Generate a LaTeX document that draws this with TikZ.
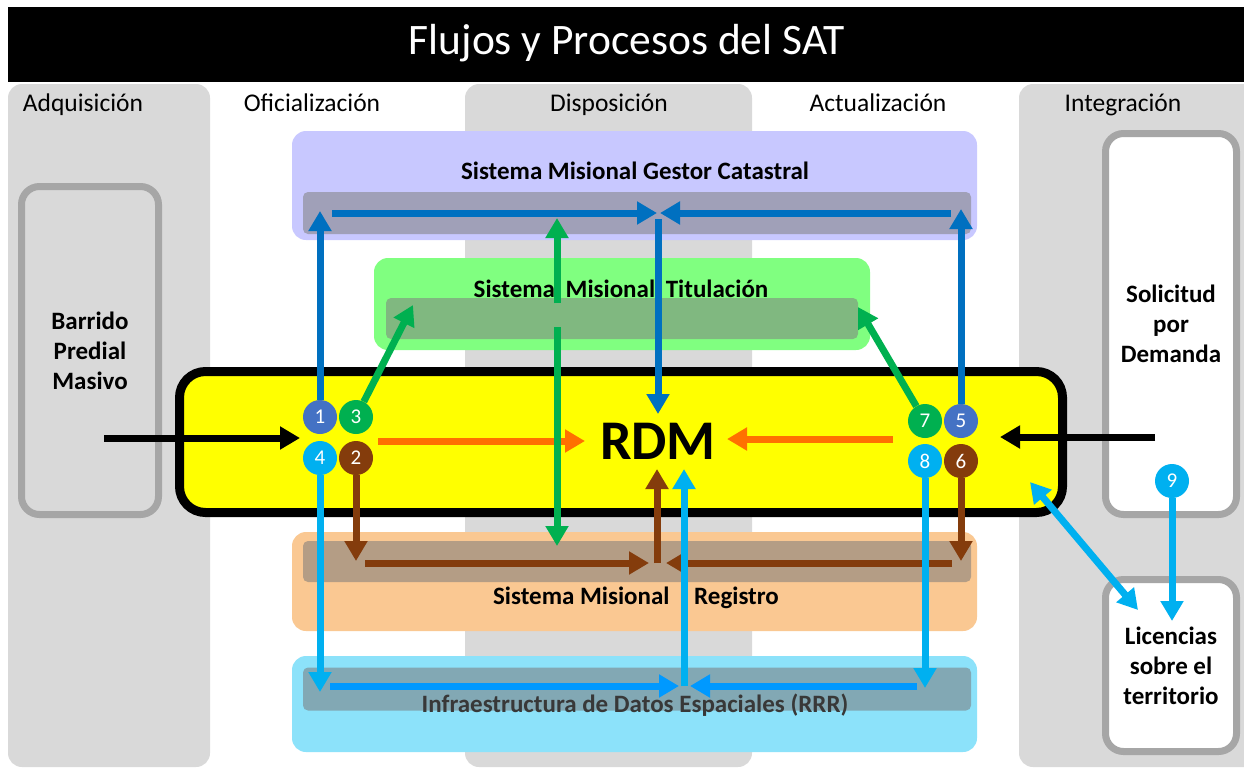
\documentclass[tikz,border=0pt]{standalone}
\usepackage{fontspec}
\setmainfont{Carlito}
\usetikzlibrary{arrows.meta}
\definecolor{colgray}{RGB}{217,217,217}
\definecolor{boxgray}{RGB}{166,166,166}
\definecolor{lav}{RGB}{200,200,255}
\definecolor{lavbar}{RGB}{160,160,184}
\definecolor{lgreen}{RGB}{128,255,128}
\definecolor{lgreenbar}{RGB}{128,184,128}
\definecolor{lorange}{RGB}{250,200,146}
\definecolor{lorangebar}{RGB}{180,157,133}
\definecolor{lcyan}{RGB}{140,226,250}
\definecolor{lcyanbar}{RGB}{130,168,180}
\definecolor{cblue}{RGB}{0,112,192}
\definecolor{cblueC}{RGB}{68,114,196}
\definecolor{cgreen}{RGB}{0,176,80}
\definecolor{ccyan}{RGB}{0,176,240}
\definecolor{ccyanH}{RGB}{0,153,255}
\definecolor{cbrown}{RGB}{132,60,12}
\definecolor{corange}{RGB}{255,112,0}
\definecolor{ryellow}{RGB}{255,255,0}
\begin{document}
\begin{tikzpicture}[x=1pt,y=-1pt,
  arr/.style={line width=7pt,-{Triangle[length=20pt,width=22pt]}},
  darr/.style={line width=7pt,{Triangle[length=20pt,width=22pt]}-{Triangle[length=20pt,width=22pt]}},
  colhead/.style={anchor=base,font=\fontsize{25.5}{28}\selectfont},
  sidebox/.style={draw=boxgray,line width=7pt,rounded corners=18pt,inner sep=0pt,align=center,font=\fontsize{25}{30}\selectfont\bfseries},
  grp/.style={rounded corners=14pt,inner sep=0pt},
  bar/.style={rounded corners=5pt,inner sep=0pt},
  grptitle/.style={font=\fontsize{25}{28}\selectfont\bfseries},
  num/.style={circle,minimum size=34pt,inner sep=0pt,text=white,font=\fontsize{21}{21}\selectfont}
]
\useasboundingbox (0,0) rectangle (1244,769);
\fill[white] (0,0) rectangle (1244,769);
% title bar
\fill[black] (8,7) rectangle (1244,82);
\node[font=\fontsize{43.5}{46}\selectfont,text=white] (title) at (627,43) {Flujos y Procesos del SAT};
% columns
\fill[colgray,rounded corners=14pt] (8,84) rectangle (210,767);
\fill[colgray,rounded corners=14pt] (465,84) rectangle (752,767);
\fill[colgray,rounded corners=14pt] (1019,84) rectangle (1258,767);
\node[colhead] (h1) at (83,111) {Adquisición};
\node[colhead] (h2) at (312,111) {Oficialización};
\node[colhead] (h3) at (609,111) {Disposición};
\node[colhead] (h4) at (878,111) {Actualización};
\node[colhead] (h5) at (1123,111) {Integración};
% side boxes
\node[sidebox,fill=colgray,minimum width=137pt,minimum height=328pt] (barrido) at (90,350.5) {Barrido\\Predial\\Masivo};
\node[sidebox,fill=white,minimum width=131pt,minimum height=381pt] (solicitud) at (1171,324) {Solicitud\\por\\Demanda};
\node[sidebox,fill=white,minimum width=131pt,minimum height=172pt] (licencias) at (1171,665.5) {Licencias\\sobre el\\territorio};
% groups
\node[grp,fill=lav,minimum width=685pt,minimum height=109pt] (gc) at (634.5,185.5) {};
\node[bar,fill=lavbar,minimum width=668pt,minimum height=42pt] (gcbar) at (637,213) {};
\node[grptitle] (gct) at (635,171) {Sistema Misional Gestor Catastral};
\node[grp,fill=lgreen,minimum width=496pt,minimum height=92pt] (gt) at (622,304) {};
\node[bar,fill=lgreenbar,minimum width=472pt,minimum height=41pt] (gtbar) at (622,318.5) {};
\node[grptitle] (gtt) at (621,289) {Sistema\hspace{5pt} Misional\hspace{5pt} Titulación};
% RDM
\node[draw=black,fill=ryellow,line width=9pt,rounded corners=26pt,minimum width=883pt,minimum height=141pt,inner sep=0pt] (rdmbox) at (621,442) {};
\node[font=\fontsize{56}{58}\selectfont\bfseries] (rdm) at (658,441) {RDM};
\node[grp,fill=lorange,minimum width=685pt,minimum height=99pt] (gr) at (634.5,581.5) {};
\node[bar,fill=lorangebar,minimum width=668pt,minimum height=41pt] (grbar) at (637,561.5) {};
\node[grptitle] (grt) at (636,598) {Sistema Misional\hspace{19pt} Registro};
\node[grp,fill=lcyan,minimum width=685pt,minimum height=96pt] (gi) at (634.5,704) {};
\node[bar,fill=lcyanbar,minimum width=668pt,minimum height=43pt] (gibar) at (637,689) {};
\node[grptitle,text=black!78] (git) at (635,705) {Infraestructura de Datos Espaciales (RRR)};
% circles
\node[num,fill=cblueC] (c1) at (320,417) {1};
\node[num,fill=cgreen] (c3) at (356,417) {3};
\node[num,fill=ccyan] (c4) at (320,458) {4};
\node[num,fill=cbrown] (c2) at (356,458) {2};
\node[num,fill=cgreen] (c7) at (925,421) {7};
\node[num,fill=cblueC] (c5) at (961,421) {5};
\node[num,fill=ccyan] (c8) at (925,461) {8};
\node[num,fill=cbrown] (c6) at (961,461) {6};
\node[num,fill=ccyan] (c9) at (1172,481) {9};
% coordinates
\coordinate (bA) at (104,438);
\coordinate (bAt) at (300,438);
\coordinate (bS) at (1155,437);
\coordinate (bSt) at (1000,437);
\coordinate (oL) at (378,441);
\coordinate (oLt) at (585,441);
\coordinate (oR) at (893,439);
\coordinate (oRt) at (727,439);
\coordinate (b1t) at (320,211);
\coordinate (b5t) at (961,209);
\coordinate (bhL) at (332,213);
\coordinate (bhLt) at (657,213);
\coordinate (bhR) at (951,213);
\coordinate (bhRt) at (660,213);
\coordinate (bdn) at (658,219);
\coordinate (bdnt) at (658,414);
\coordinate (g3t) at (413,305);
\coordinate (g7t) at (858,307);
\coordinate (gup) at (557,303);
\coordinate (gupt) at (557,218);
\coordinate (gdn) at (557,327);
\coordinate (gdnt) at (557,546);
\coordinate (r2t) at (356,561);
\coordinate (r6t) at (961,561);
\coordinate (rhL) at (365,563);
\coordinate (rhLt) at (649,563);
\coordinate (rhR) at (952,563);
\coordinate (rhRt) at (666,563);
\coordinate (rup) at (657,563);
\coordinate (rupt) at (657,469);
\coordinate (i4t) at (320,692);
\coordinate (i8t) at (925,688);
\coordinate (ihL) at (330,686);
\coordinate (ihLt) at (679,686);
\coordinate (ihR) at (917,686);
\coordinate (ihRt) at (690,686);
\coordinate (iup) at (684,686);
\coordinate (iupt) at (684,469);
\coordinate (c9t) at (1172,621);
\coordinate (dA) at (1030,482);
\coordinate (dB) at (1138,610);
% arrows
\draw[arr,black] (bA) -- (bAt);
\draw[arr,black] (bS) -- (bSt);
\draw[arr,corange] (oL) -- (oLt);
\draw[arr,corange] (oR) -- (oRt);
\draw[arr,cblue] (c1.north) -- (b1t);
\draw[arr,cblue] (c5.north) -- (b5t);
\draw[arr,cblue] (bhL) -- (bhLt);
\draw[arr,cblue] (bhR) -- (bhRt);
\draw[arr,cblue] (bdn) -- (bdnt);
\draw[arr,cgreen] (c3) -- (g3t);
\draw[arr,cgreen] (c7) -- (g7t);
\draw[arr,cgreen] (gup) -- (gupt);
\draw[arr,cgreen] (gdn) -- (gdnt);
\draw[arr,cbrown] (c2.south) -- (r2t);
\draw[arr,cbrown] (c6.south) -- (r6t);
\draw[arr,cbrown] (rhL) -- (rhLt);
\draw[arr,cbrown] (rhR) -- (rhRt);
\draw[arr,cbrown] (rup) -- (rupt);
\draw[arr,ccyan] (c4.south) -- (i4t);
\draw[arr,ccyan] (c8.south) -- (i8t);
\draw[arr,ccyanH] (ihL) -- (ihLt);
\draw[arr,ccyanH] (ihR) -- (ihRt);
\draw[arr,ccyan] (iup) -- (iupt);
\draw[arr,ccyan] (c9.south) -- (c9t);
\draw[darr,ccyan] (dA) -- (dB);
\end{tikzpicture}
\end{document}
